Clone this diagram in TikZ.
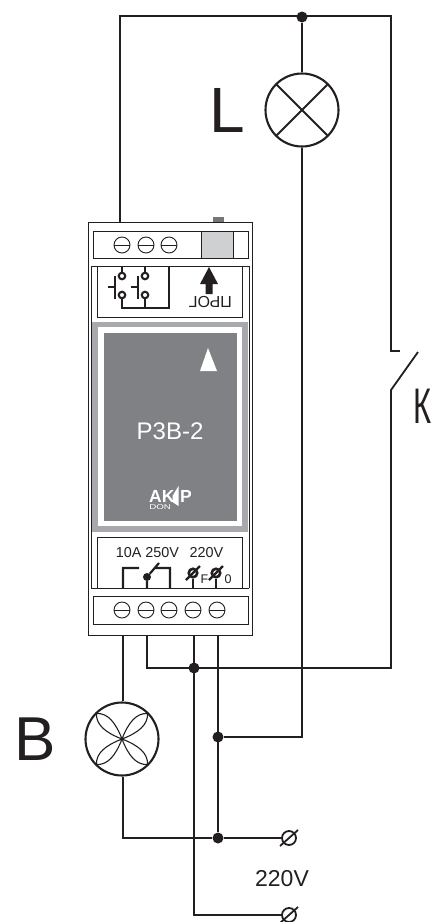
\documentclass[tikz,border=0pt]{standalone}
\usepackage{fontspec}
\setmainfont{Liberation Sans}
\definecolor{wire}{HTML}{231F20}
\definecolor{panel}{HTML}{808184}
\definecolor{frame}{HTML}{A7A9AC}
\definecolor{slider}{HTML}{CFD0D2}
\tikzset{
	screw/.style={circle,draw=wire,line width=0.9pt,minimum size=16pt,inner sep=0pt,path picture={\draw[wire,line width=1pt] (path picture bounding box.west) -- (path picture bounding box.east);}},
	lamp/.style={circle,draw=wire,line width=2.1pt,minimum size=73pt,inner sep=0pt},
	junction/.style={circle,fill=wire,minimum size=11pt,inner sep=0pt},
	smalldot/.style={circle,fill=wire,minimum size=8pt,inner sep=0pt},
	hollow/.style={circle,draw=wire,fill=white,line width=2.1pt,minimum size=6.5pt,inner sep=0pt},
	term/.style={circle,draw=wire,line width=1.8pt,minimum size=14pt,inner sep=0pt},
	termsmall/.style={circle,draw=wire,line width=2.6pt,minimum size=8.5pt,inner sep=0pt},
	caption/.style={text=wire,inner sep=0pt},
	box/.style={draw=wire,line width=0.8pt},
}
\begin{document}
\begin{tikzpicture}[x=1pt,y=-1pt,wiring/.style={draw=wire,line width=1.8pt},
				bold wiring/.style={draw=wire,line width=2.2pt}]
\useasboundingbox[clip] (0,0) rectangle (434,922);
% device body
\draw[box,line width=1pt] (88,222) rectangle (252,635);
\fill[frame!70!black] (213,217) rectangle (224,222);
\draw[box] (93,231) rectangle (248,258);
\draw[box,fill=slider] (201,231) rectangle (233,258);
\draw[box] (91,266) -- (91,588) (249,266) -- (249,588) (91,266) -- (249,266) (91,588) -- (249,588);
\draw[box] (97,266) rectangle (242,317);
\draw[box] (97,537) rectangle (242,588);
\draw[box] (93,596) rectangle (248,624);
% face plate
\fill[frame] (92,322) rectangle (248,532);
\fill[white] (98,327) rectangle (242,526);
\fill[panel] (104,333) rectangle (237,521);
\fill[white] (208,348) -- (217,371) -- (200,371) -- cycle;
\node[caption,text=white,font=\fontsize{24}{24}\selectfont] (name) at (170,431) {Р3В-2};
\node[caption,text=white,font=\fontsize{17.5}{17.5}\selectfont\bfseries,anchor=base west] (logoak) at (149,502) {AK};
\node[caption,text=white,font=\fontsize{17.5}{17.5}\selectfont\bfseries,anchor=base west] (logop) at (180,502) {P};
\node[caption,text=white,font=\fontsize{7}{7}\selectfont,anchor=base west,xscale=1.4] (logodon) at (149,509) {DON};
\fill[white] (178.5,486) -- (178.5,506) -- (172.5,502) -- (172.5,496) -- cycle;
% screws
\foreach \name/\px in {a/122,b/146,c/169}
	\node[screw] (top\name) at (\px,245) {};
\foreach \name/\px in {a/122,b/146,c/169,d/193,e/217}
	\node[screw] (bot\name) at (\px,610) {};
% button symbol
\node[hollow] (ua) at (122,276) {};
\node[hollow] (ub) at (145,276) {};
\node[hollow] (la) at (122,295) {};
\node[hollow] (lb) at (145,295) {};
\coordinate (ta) at (122,266);
\coordinate (tb) at (145,266);
\coordinate (tc) at (169,266);
\coordinate (ba) at (122,308);
\coordinate (bb) at (145,308);
\coordinate (bc) at (169,308);
\draw[bold wiring] (ta) -- (ua) (tb) -- (ub) (tc) -- (bc) -- (ba) -- (la) (bb) -- (lb);
\draw[bold wiring] (115,276) -- (115,299) (108,287) -- (115,287) (138,276) -- (138,299) (131,287) -- (138,287);
\fill[wire] (209,267) -- (218,284) -- (212.5,284) -- (212.5,294) -- (205.5,294) -- (205.5,284) -- (200,284) -- cycle;
\node[caption,rotate=180,font=\fontsize{16}{16}\selectfont] (prog) at (210.5,302.5) {ПРОГ};
% relay symbol
\node[caption,font=\fontsize{14.4}{14.4}\selectfont] (rating) at (147.5,553) {10A 250V};
\node[caption,font=\fontsize{14.4}{14.4}\selectfont] (supply) at (206.5,553) {220V};
\coordinate (ra) at (123,588);
\coordinate (rb) at (147,588);
\coordinate (rc) at (170,588);
\coordinate (raup) at (123,568);
\coordinate (raend) at (139,568);
\coordinate (rcup) at (170,568);
\coordinate (rcend) at (155,568);
\coordinate (blade) at (159,563);
\node[smalldot] (pivot) at (147,577) {};
\draw[bold wiring] (ra) -- (raup) -- (raend) (rc) -- (rcup) -- (rcend) (rb) -- (pivot) -- (blade);
\node[termsmall] (termf) at (193,573) {};
\node[termsmall] (termn) at (216,573) {};
\coordinate (fb) at (193,588);
\coordinate (nb) at (216,588);
\draw[bold wiring] (termf) -- (fb) (termn) -- (nb);
\draw[bold wiring] (186,580) -- (200,566) (209,580) -- (223,566);
\node[caption,font=\fontsize{12.5}{12.5}\selectfont] (letterf) at (204.5,579) {F};
\node[caption,font=\fontsize{12.5}{12.5}\selectfont] (letterzero) at (228,579) {0};
% lamps
\node[lamp,path picture={\draw[wire,line width=1.8pt] (path picture bounding box.south west) -- (path picture bounding box.north east) (path picture bounding box.north west) -- (path picture bounding box.south east);}] (lampl) at (302,110) {};
\node[lamp] (lampb) at (122,739) {};
\foreach \ang in {45,135,225,315}
	\draw[wire,line width=1.1pt] (lampb.center) .. controls ([shift={(\ang+24:18)}]lampb.center) and ([shift={(\ang+16:30)}]lampb.center) .. ([shift={(\ang:36)}]lampb.center) .. controls ([shift={(\ang-16:30)}]lampb.center) and ([shift={(\ang-24:18)}]lampb.center) .. (lampb.center);
\node[caption,font=\fontsize{64}{64}\selectfont] (letterl) at (227.5,110) {L};
\node[caption,font=\fontsize{62}{62}\selectfont] (letterb) at (35.5,739) {B};
\node[caption,font=\fontsize{50}{50}\selectfont,anchor=base west,xscale=0.62] (letterk) at (413.5,423) {К};
\node[caption,font=\fontsize{23}{23}\selectfont] (volts) at (282,879) {220V};
% junctions and terminals
\node[junction] (jtop) at (302,17) {};
\node[junction] (jbus) at (194,668) {};
\node[junction] (jlamp) at (218,737) {};
\node[junction] (jret) at (218,838) {};
\node[term] (phase) at (289,838) {};
\node[term] (neutral) at (289,915) {};
\draw[wiring] (280,846) -- (298,830) (280,923) -- (298,907);
% outside wiring
\coordinate (bodytop) at (120,222);
\coordinate (corner) at (120,16);
\coordinate (topright) at (391,16);
\coordinate (swup) at (391,351);
\coordinate (swend) at (400,351);
\coordinate (swlow) at (391,390);
\coordinate (swtip) at (418,352);
\coordinate (lowright) at (391,668);
\coordinate (out1) at (147,635);
\coordinate (outb) at (123,635);
\coordinate (outf) at (194,635);
\coordinate (outn) at (218,635);
\coordinate (b1) at (147,668);
\coordinate (lampdrop) at (302,737);
\coordinate (lampleft) at (123,838);
\coordinate (lowf) at (194,915);
\draw[wiring] (bodytop) -- (corner) -- (topright) -- (swup) -- (swend);
\draw[wiring] (jtop) -- (lampl);
\draw[wiring] (lampl) -- (lampdrop) -- (jlamp);
\draw[wiring] (swtip) -- (swlow) -- (lowright) -- (b1) -- (out1);
\draw[wiring] (outb) -- (outb |- lampb.north);
\draw[wiring] (outb |- lampb.south) -- (lampleft) -- (jret) -- (phase);
\draw[wiring] (outf) -- (lowf) -- (neutral);
\draw[wiring] (outn) -- (jret);
\end{tikzpicture}
\end{document}
